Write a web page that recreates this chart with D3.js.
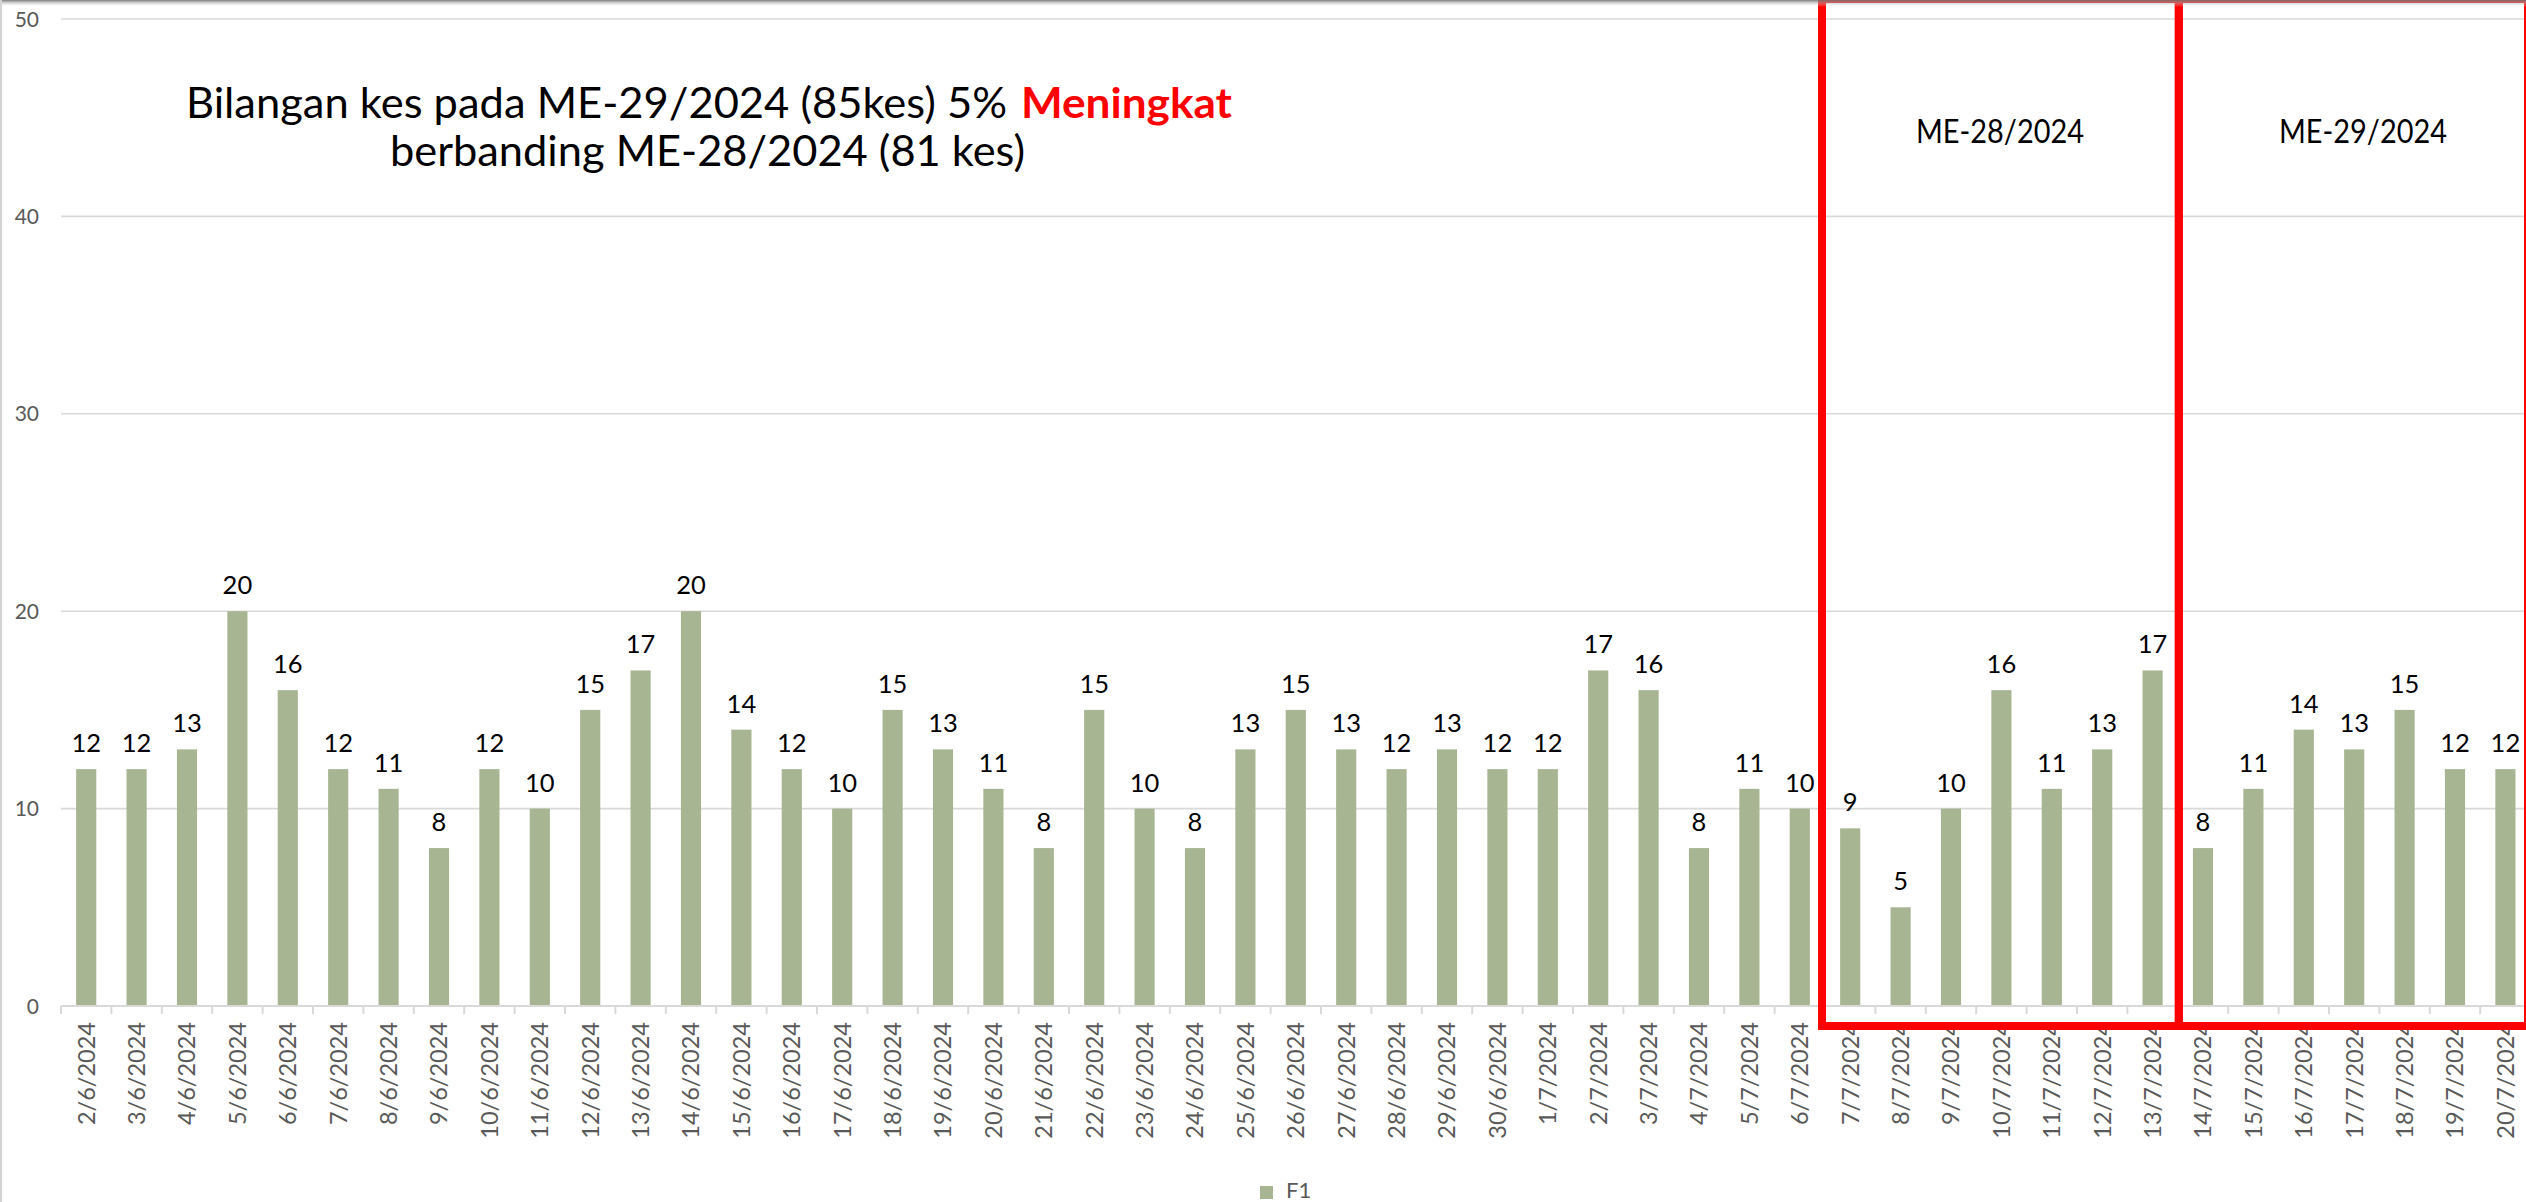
<!DOCTYPE html>
<html>
<head>
<meta charset="utf-8">
<script src="https://cdn.jsdelivr.net/npm/d3@7"></script>
<style>
  html, body { margin: 0; padding: 0; background: #fff; overflow: hidden; }
  svg { display: block; }
  text { font-family: Lato, "Open Sans", sans-serif; }
</style>
</head>
<body>
<svg id="chart" width="2526" height="1202"></svg>
<script>
// ---- data ----
const categories = [
  "2/6/2024","3/6/2024","4/6/2024","5/6/2024","6/6/2024","7/6/2024","8/6/2024","9/6/2024","10/6/2024",
  "11/6/2024","12/6/2024","13/6/2024","14/6/2024","15/6/2024","16/6/2024","17/6/2024","18/6/2024",
  "19/6/2024","20/6/2024","21/6/2024","22/6/2024","23/6/2024","24/6/2024","25/6/2024","26/6/2024",
  "27/6/2024","28/6/2024","29/6/2024","30/6/2024","1/7/2024","2/7/2024","3/7/2024","4/7/2024",
  "5/7/2024","6/7/2024","7/7/2024","8/7/2024","9/7/2024","10/7/2024","11/7/2024","12/7/2024",
  "13/7/2024","14/7/2024","15/7/2024","16/7/2024","17/7/2024","18/7/2024","19/7/2024","20/7/2024"
];
const values = [
  12,12,13,20,16,12,11,8,12,
  10,15,17,20,14,12,10,15,
  13,11,8,15,10,8,13,15,
  13,12,13,12,12,17,16,8,
  11,10,9,5,10,16,11,13,
  17,8,11,14,13,15,12,12
];
const seriesName = "F1";
const yTicks = [0,10,20,30,40,50];
const weekBoxes = [
  { label: "ME-28/2024", from: "7/7/2024", to: "13/7/2024" },
  { label: "ME-29/2024", from: "14/7/2024", to: "20/7/2024" }
];
const titleLine1 = "Bilangan kes pada ME-29/2024 (85kes) 5%";
const titleHighlight = "Meningkat";
const titleLine2 = "berbanding ME-28/2024 (81 kes)";

// ---- layout ----
const svg = d3.select("#chart");
const W = 2526, H = 1202;
const plotLeft = 61, step = 50.4;
const plotRight = plotLeft + step * categories.length;
const yTop = 19, yBase = 1006;

const x = d3.scaleBand().domain(categories).range([plotLeft, plotRight]).paddingInner(0.6).paddingOuter(0.3);
const y = d3.scaleLinear().domain([0, 50]).range([yBase, yTop]);
const barColor = "#a7b593";
const gridColor = "#d9d9d9";

// defs: top shadow
const defs = svg.append("defs");
const grad = defs.append("linearGradient").attr("id", "topShadow").attr("x1", 0).attr("y1", 0).attr("x2", 0).attr("y2", 1);
grad.append("stop").attr("offset", "0%").attr("stop-color", "#6e6e6e").attr("stop-opacity", 0.9);
grad.append("stop").attr("offset", "100%").attr("stop-color", "#ffffff").attr("stop-opacity", 0);

// gridlines
svg.append("g").selectAll("line").data(yTicks.filter(d => d > 0)).join("line")
  .attr("x1", plotLeft).attr("x2", W)
  .attr("y1", d => y(d)).attr("y2", d => y(d))
  .attr("stroke", gridColor).attr("stroke-width", 1.6);

// y axis labels
svg.append("g").selectAll("text").data(yTicks).join("text")
  .attr("x", 39).attr("y", d => y(d)).attr("dy", "0.36em")
  .attr("text-anchor", "end").attr("font-size", 21).attr("fill", "#595959")
  .text(d => d);

// bars
svg.append("g").selectAll("rect").data(values).join("rect")
  .attr("x", (d, i) => x(categories[i]))
  .attr("width", x.bandwidth())
  .attr("y", d => y(d))
  .attr("height", d => y(0) - y(d))
  .attr("fill", barColor);

// baseline axis
svg.append("line").attr("x1", plotLeft).attr("x2", W).attr("y1", yBase).attr("y2", yBase)
  .attr("stroke", gridColor).attr("stroke-width", 2);

// tick marks at category boundaries
const gap = (x.step() - x.bandwidth()) / 2;
svg.append("g").selectAll("line").data(categories).join("line")
  .attr("x1", d => x(d) - gap).attr("x2", d => x(d) - gap)
  .attr("y1", yBase).attr("y2", yBase + 8)
  .attr("stroke", gridColor).attr("stroke-width", 2);

// x labels
svg.append("g").selectAll("text").data(categories).join("text")
  .attr("transform", d => `translate(${x(d) + x.bandwidth() / 2},1022) rotate(-90)`)
  .attr("dy", "0.36em")
  .attr("text-anchor", "end").attr("font-size", 23.5).attr("fill", "#595959")
  .text(d => d);

// data labels
svg.append("g").selectAll("text").data(values).join("text")
  .attr("x", (d, i) => x(categories[i]) + x.bandwidth() / 2)
  .attr("y", d => y(d) - 17)
  .attr("text-anchor", "middle").attr("font-size", 25.5).attr("fill", "#000")
  .text(d => d);

// title
svg.append("text").attr("x", 186).attr("y", 118).attr("font-size", 42).attr("fill", "#000")
  .attr("textLength", 821).attr("lengthAdjust", "spacingAndGlyphs").text(titleLine1);
svg.append("text").attr("x", 1021).attr("y", 118).attr("font-size", 42).attr("font-weight", "bold").attr("fill", "#ff0000")
  .attr("textLength", 211).attr("lengthAdjust", "spacingAndGlyphs").text(titleHighlight);
svg.append("text").attr("x", 390).attr("y", 166).attr("font-size", 42).attr("fill", "#000")
  .attr("textLength", 635).attr("lengthAdjust", "spacingAndGlyphs").text(titleLine2);

// week boxes (share the dividing line between weeks)
const boxG = svg.append("g");
weekBoxes.forEach((b, i) => {
  const x0 = x(b.from) - gap + (i === 0 ? -3 : 1);
  const x1 = i === weekBoxes.length - 1 ? W + 2 : x(b.to) + x.bandwidth() + gap + 1;
  boxG.append("rect")
    .attr("x", x0).attr("y", -1).attr("width", x1 - x0).attr("height", 1027)
    .attr("fill", "none").attr("stroke", "#ff0000").attr("stroke-width", 8);
});
// labels in boxes
const boxLabelX = [2000, 2363];
weekBoxes.forEach((b, i) => {
  boxG.append("text").attr("x", boxLabelX[i]).attr("y", 143)
    .attr("text-anchor", "middle").attr("font-size", 32).attr("fill", "#000")
    .attr("textLength", 168).attr("lengthAdjust", "spacingAndGlyphs")
    .text(b.label);
});

// legend
svg.append("rect").attr("x", 1260).attr("y", 1186).attr("width", 13).attr("height", 13).attr("fill", barColor);
svg.append("text").attr("x", 1286).attr("y", 1198).attr("font-size", 22).attr("fill", "#595959").text(seriesName);

// frame decorations: top shadow and left edge
svg.append("rect").attr("x", 0).attr("y", 0).attr("width", W).attr("height", 7).attr("fill", "url(#topShadow)");
svg.append("line").attr("x1", 1).attr("x2", 1).attr("y1", 0).attr("y2", H).attr("stroke", "#d4d4d4").attr("stroke-width", 2);
</script>
</body>
</html>
